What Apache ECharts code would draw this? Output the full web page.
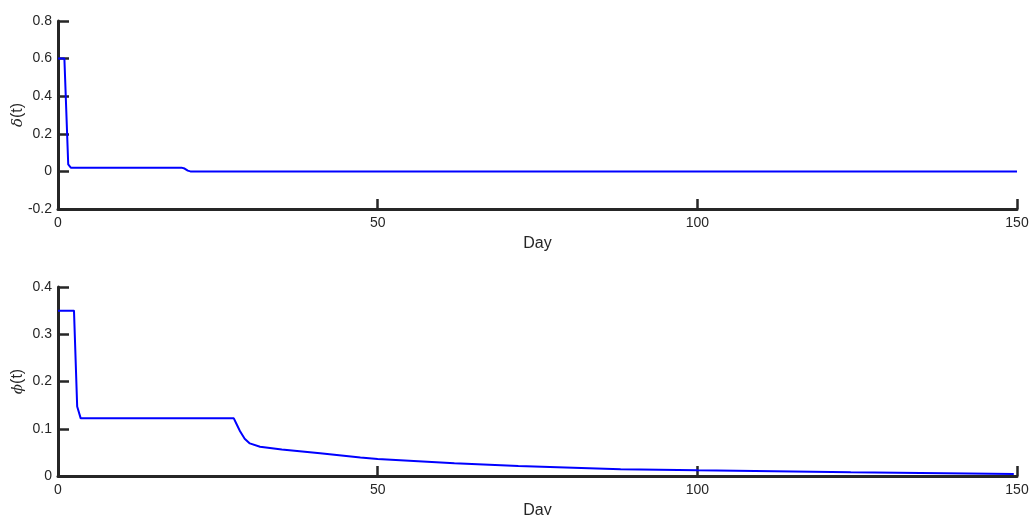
<!DOCTYPE html>
<html>
<head>
<meta charset="utf-8">
<script src="https://cdn.jsdelivr.net/npm/echarts@6/dist/echarts.min.js"></script>
<style>html,body{margin:0;padding:0;background:#fff;}#c{width:1030px;height:515px;}</style>
</head>
<body>
<div id="c"></div>
<script>
// Top panel: delta(t)
const deltaDays = [0, 1, 1.6, 2, 19.3, 19.8, 20.3, 20.7, 150];
const deltaVals = [0.6, 0.6, 0.037, 0.02, 0.02, 0.015, 0.004, 0, 0];
// Bottom panel: phi(t)
const phiDays = [0, 2.5, 3.0, 3.55, 27.5, 28.0, 28.5, 29.2, 30, 31.6, 35, 41, 47.3, 50, 62, 72, 88, 100, 124, 149.5];
const phiVals = [0.35, 0.35, 0.147, 0.122, 0.122, 0.108, 0.094, 0.079, 0.069, 0.062, 0.056, 0.048, 0.039, 0.036, 0.027, 0.021, 0.0145, 0.012, 0.0078, 0.0042];
const xTicks = [0, 50, 100, 150];
const deltaTicks = [-0.2, 0, 0.2, 0.4, 0.6, 0.8];
const phiTicks = [0, 0.1, 0.2, 0.3, 0.4];

const pair = (xs, ys) => xs.map((x, i) => [x, ys[i]]);
const axCol = '#262626';
const font = 'Liberation Sans, Arial, sans-serif';

function xAxis(gi) {
  return {
    type: 'value', gridIndex: gi, min: xTicks[0], max: xTicks[xTicks.length - 1], interval: 50,
    name: 'Day', nameLocation: 'middle', nameGap: 27,
    nameTextStyle: { color: axCol, fontSize: 16, fontFamily: font },
    axisLine: { show: true, onZero: false, lineStyle: { color: axCol, width: 3 } },
    axisTick: { show: true, inside: true, length: 10, lineStyle: { color: axCol, width: 2.5 } },
    axisLabel: { color: axCol, fontSize: 14, fontFamily: font, margin: 7 },
    splitLine: { show: false }
  };
}
function yAxis(gi, ticks, sym) {
  return {
    type: 'value', gridIndex: gi, min: ticks[0], max: ticks[ticks.length - 1], interval: ticks[1] - ticks[0],
    name: '{i|' + sym + '}{n|(t)}', nameLocation: 'middle', nameGap: 32, nameMoveOverlap: false,
    nameTextStyle: { color: axCol, fontSize: 15, fontFamily: font,
      rich: {
        i: { fontStyle: 'italic', fontFamily: 'DejaVu Serif, serif', fontSize: 15, color: axCol },
        n: { fontSize: 16, fontFamily: font, color: axCol }
      } },
    axisLine: { show: true, onZero: false, lineStyle: { color: axCol, width: 3 } },
    axisTick: { show: true, inside: true, length: 11, lineStyle: { color: axCol, width: 2.5 } },
    axisLabel: { color: axCol, fontSize: 14, fontFamily: font, margin: 6,
      formatter: v => String(Math.round(v * 10) / 10) },
    splitLine: { show: false }
  };
}

const chart = echarts.init(document.getElementById('c'), null, { renderer: 'canvas' });
chart.setOption({
  animation: false,
  backgroundColor: '#ffffff',
  grid: [
    { left: 58, right: 13, top: 21, height: 188, outerBoundsMode: 'none', containLabel: false },
    { left: 58, right: 13, top: 287, height: 189, outerBoundsMode: 'none', containLabel: false }
  ],
  xAxis: [xAxis(0), xAxis(1)],
  yAxis: [yAxis(0, deltaTicks, 'δ'), yAxis(1, phiTicks, 'ϕ')],
  series: [
    { type: 'line', xAxisIndex: 0, yAxisIndex: 0, data: pair(deltaDays, deltaVals),
      showSymbol: false, lineStyle: { color: '#0000ff', width: 2 }, z: 1 },
    { type: 'line', xAxisIndex: 1, yAxisIndex: 1, data: pair(phiDays, phiVals),
      showSymbol: false, lineStyle: { color: '#0000ff', width: 2 }, z: 1 }
  ]
});
</script>
</body>
</html>
